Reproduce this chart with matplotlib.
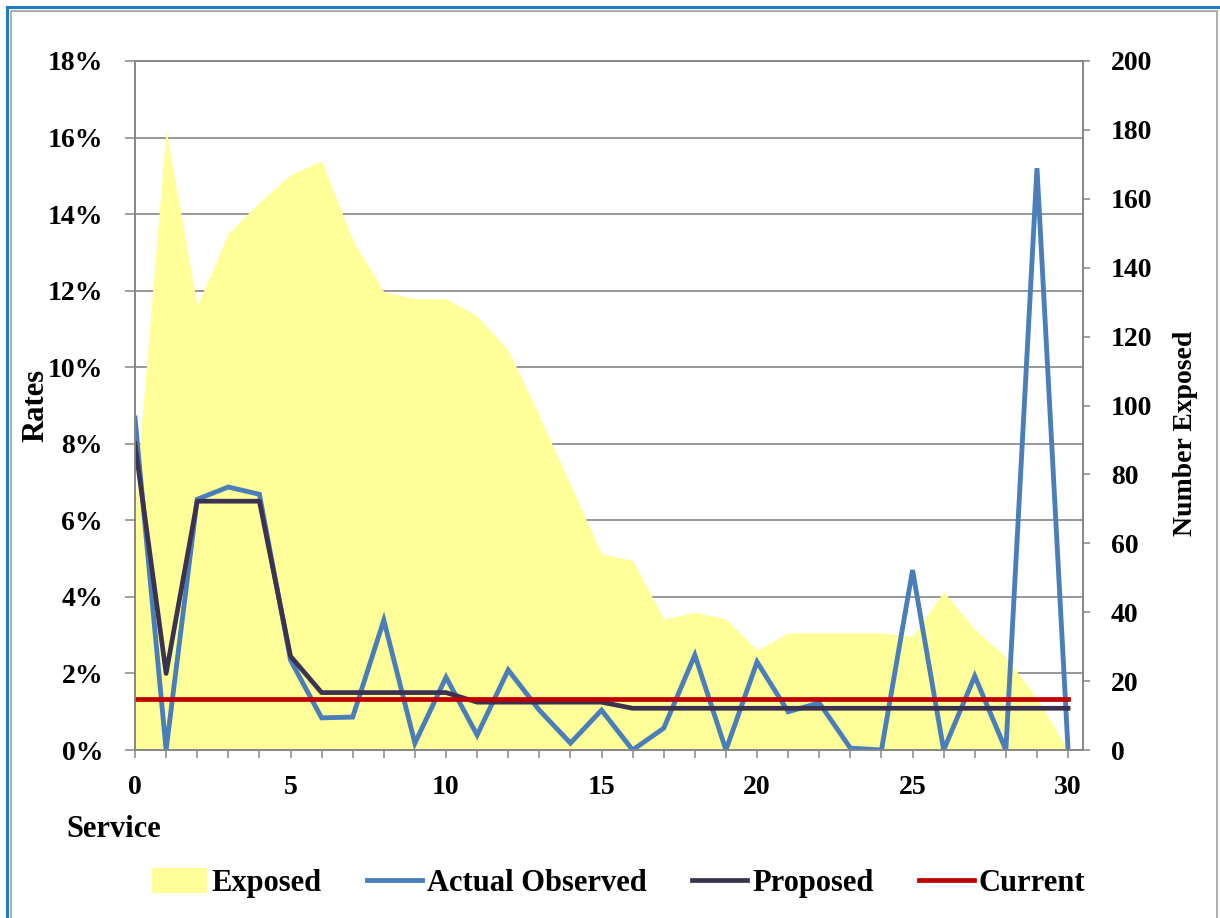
import matplotlib
matplotlib.use("Agg")
import matplotlib.pyplot as plt
from matplotlib.patches import Rectangle
from matplotlib.ticker import MultipleLocator, PercentFormatter

plt.rcParams["font.family"] = ["Liberation Serif", "DejaVu Serif"]
plt.rcParams["font.weight"] = "bold"

# service year 0..30
service = list(range(31))
exposed = [72, 180, 129, 150, 159, 167, 171, 148, 133, 131, 131, 126, 116, 97, 77,
           57, 55, 38, 40, 38, 29, 34, 34, 34, 34, 33, 46, 35, 27, 15, 0]
actual = [8.67, 0.0, 6.55, 6.87, 6.68, 2.35, 0.84, 0.86, 3.39, 0.18, 1.90, 0.39, 2.09,
          1.04, 0.18, 1.04, 0.0, 0.57, 2.48, 0.0, 2.30, 1.00, 1.23, 0.05, 0.0, 4.70,
          0.0, 1.93, 0.0, 15.2, 0.0]
proposed = [8.0, 2.0, 6.5, 6.5, 6.5, 2.45, 1.5, 1.5, 1.5, 1.5, 1.5,
            1.25, 1.25, 1.25, 1.25, 1.25] + [1.09] * 15
current = [1.33] * 31

GRAY = "#868686"
YELLOW = "#FFFF99"
BLUE = "#4A7EBB"
NAVY = "#3A3250"
RED = "#C00000"

fig = plt.figure(figsize=(12.2, 9.18), dpi=100)
ax1 = fig.add_axes([135 / 1220, 1 - 750 / 918, 948 / 1220, 689 / 918])
ax2 = ax1.twinx()

# exposure area uses the right-hand scale but sits in ax1 so gridlines stay behind it
area = ax1.fill_between(service, exposed, 0, transform=ax2.transData,
                        color=YELLOW, linewidth=0, zorder=1, label="Exposed")
l_act, = ax1.plot(service, actual, color=BLUE, lw=3.5, zorder=3,
                  solid_joinstyle="miter", label="Actual Observed")
l_prop, = ax1.plot(service, proposed, color=NAVY, lw=3.4, zorder=4, label="Proposed")
l_cur, = ax1.plot(service, current, color=RED, lw=3.4, zorder=5, label="Current")

ax1.set_xlim(0, 30.48)
ax1.set_ylim(0, 18)
ax2.set_ylim(0, 200)

ax1.set_axisbelow(True)
ax1.grid(axis="y", color=GRAY, lw=1.2)
ax1.xaxis.set_major_locator(MultipleLocator(5))
ax1.xaxis.set_minor_locator(MultipleLocator(1))
ax1.yaxis.set_major_locator(MultipleLocator(2))
ax1.yaxis.set_major_formatter(PercentFormatter(xmax=100, decimals=0))
ax2.yaxis.set_major_locator(MultipleLocator(20))

for ax in (ax1, ax2):
    for sp in ax.spines.values():
        sp.set_color(GRAY)
        sp.set_linewidth(1.2)

ax1.tick_params(axis="x", which="both", direction="out", length=6, width=1.1,
                color=GRAY, labelsize=20, pad=12)
ax1.tick_params(axis="y", direction="out", length=7, width=1.1, color=GRAY,
                labelsize=20, pad=16)
ax2.tick_params(axis="y", direction="out", length=5, width=1.1, color=GRAY,
                labelsize=20, pad=15)
for lab in ax2.get_yticklabels():
    lab.set_ha("left")

ax1.set_xlabel("Service", fontsize=22, fontweight="bold", ha="left", va="center")
ax1.xaxis.set_label_coords(-0.072, -0.116)
ax1.set_ylabel("Rates", fontsize=22, fontweight="bold", va="center")
ax1.yaxis.set_label_coords(-0.105, 0.5)
ax2.set_ylabel("Number Exposed", fontsize=20, fontweight="bold", va="center")
ax2.yaxis.set_label_coords(1.108, 0.46)

fig.legend([area, l_act, l_prop, l_cur],
           ["Exposed", "Actual Observed", "Proposed", "Current"],
           loc="center", bbox_to_anchor=(0.507, 0.038), ncol=4, frameon=False,
           prop={"size": 22, "weight": "bold"}, handlelength=1.8,
           handleheight=0.9, handletextpad=0.15, columnspacing=1.5)

# outer chart frame
fig.add_artist(Rectangle((7 / 1220, -0.05), 1.2, 1 - 7 / 918 + 0.05,
                         transform=fig.transFigure, fill=False,
                         edgecolor="#1F7AC8", lw=2.2))
fig.add_artist(Rectangle((11 / 1220, -0.05), 1206 / 1220, 1 - 11 / 918 + 0.05,
                         transform=fig.transFigure, fill=False,
                         edgecolor="#A0A0A0", lw=1.2))

fig.savefig("out.png", dpi=100)
